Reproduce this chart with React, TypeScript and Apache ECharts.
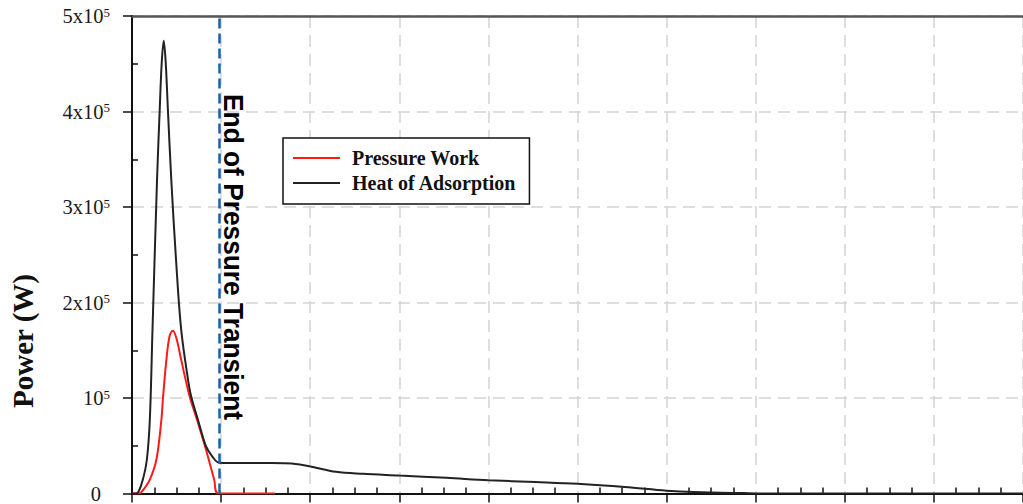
import React, { useEffect, useRef } from "react";
import * as echarts from "echarts";

// x in axis units (major grid step = 1), y in W
const heatX = [0, 0.044, 0.072, 0.122, 0.167, 0.2, 0.23, 0.281, 0.311, 0.333, 0.356, 0.378, 0.403, 0.441, 0.494, 0.552, 0.626, 0.663, 0.744, 0.83, 0.9, 0.978, 1.089, 1.42, 1.7, 1.79, 1.99, 2.29, 2.59, 3.0, 3.53, 4.0, 4.53, 5.0, 5.53, 6.0, 6.31, 6.87, 7.2, 10];
const heatY = [0, 0, 1500, 14600, 35600, 77400, 171500, 328500, 401700, 450000, 474000, 452000, 401700, 328500, 245000, 171500, 121000, 102000, 76000, 49500, 39000, 32100, 31900, 31900, 31700, 31400, 28600, 22700, 20600, 18800, 16400, 13900, 12000, 10100, 6800, 3000, 1500, 400, 0, 0];

const workX = [0, 0.08, 0.12, 0.2, 0.274, 0.33, 0.348, 0.386, 0.422, 0.459, 0.5, 0.552, 0.65, 0.73, 0.83, 0.922, 0.97, 1.608];
const workY = [0, 0, 3000, 14600, 35600, 77400, 100400, 140000, 165000, 170500, 162000, 140000, 100400, 77400, 46000, 14600, 0, 0];

const seriesNames = ["Pressure Work", "Heat of Adsorption"];
const transientEnd = 0.978;
const yTicks = [0, 100000, 200000, 300000, 400000, 500000];
const yLabels = ["0", "10", "2x10", "3x10", "4x10", "5x10"];

export default function App() {
  const ref = useRef<HTMLDivElement>(null);
  useEffect(() => {
    if (!ref.current) return;
    const chart = echarts.init(ref.current, undefined, { renderer: "svg" });
    const serif = "'Liberation Serif', 'Times New Roman', serif";
    const grid = { color: "#d3d3d3", width: 1.5, type: [12, 7] as any };
    const option: any = {
      animation: false,
      backgroundColor: "#fff",
      grid: { left: 132, right: -9, top: 16, bottom: 10 },
      legend: {
        left: 283, top: 138, orient: "vertical",
        data: seriesNames.map((n) => ({ name: n, icon: "rect" })),
        backgroundColor: "#fff", borderColor: "#111", borderWidth: 1.5,
        padding: [10, 13, 11, 10], itemGap: 5, itemWidth: 47, itemHeight: 2,
        textStyle: { fontFamily: serif, fontWeight: "bold", fontSize: 20, color: "#111", padding: [0, 0, 0, 7] },
      },
      xAxis: [
        {
          type: "value", min: 0, max: 10, interval: 1,
          axisLine: { show: true, onZero: false, lineStyle: { color: "#111", width: 2 } },
          axisTick: { show: true, inside: false, length: 9, lineStyle: { color: "#111", width: 1.5 } },
          axisLabel: { show: false },
          splitLine: { show: true, lineStyle: grid },
        },
        {
          type: "value", min: 0, max: 10, interval: 1, position: "bottom",
          axisLine: { show: false },
          axisTick: { show: false, inside: true },
          minorTick: { show: true, splitNumber: 4, length: 6, lineStyle: { color: "#111", width: 1.5 } },
          axisLabel: { show: false },
          splitLine: { show: false },
        },
        {
          type: "value", min: 0, max: 10, interval: 1, position: "top",
          axisLine: { show: true, onZero: false, lineStyle: { color: "#555", width: 2.5 } },
          axisTick: { show: false },
          axisLabel: { show: false },
          splitLine: { show: false },
        },
      ],
      yAxis: [
        {
          type: "value", min: 0, max: 500000, interval: 100000,
          axisLine: { show: true, onZero: false, lineStyle: { color: "#111", width: 2 } },
          axisTick: { show: true, inside: false, length: 9, lineStyle: { color: "#111", width: 1.5 } },
          axisLabel: {
            margin: 22,
            formatter: (v: number) => {
              const i = yTicks.indexOf(v);
              if (i < 0) return "";
              if (i === 0) return "{z|" + yLabels[0] + "}";
              return "{m|" + yLabels[i] + "}{s|5}";
            },
            rich: {
              m: { fontFamily: serif, fontSize: 20.5, color: "#1a1a1a" },
              z: { fontFamily: serif, fontSize: 20.5, color: "#1a1a1a", padding: [0, 9, 0, 0] },
              s: { fontFamily: serif, fontSize: 13, color: "#1a1a1a", padding: [0, 0, 8, 0] },
            },
          },
          splitLine: { show: true, lineStyle: grid },
        },
        {
          type: "value", min: 0, max: 500000, interval: 100000, position: "left",
          axisLine: { show: false },
          axisTick: { show: false, inside: true },
          minorTick: { show: true, splitNumber: 2, length: 6, lineStyle: { color: "#111", width: 1.5 } },
          axisLabel: { show: false },
          splitLine: { show: false },
        },
      ],
      graphic: [
        {
          type: "text", x: 23, y: 341, rotation: Math.PI / 2,
          style: { text: "Power (W)", fontFamily: serif, fontWeight: "bold", fontSize: 29, fill: "#111", align: "center", verticalAlign: "middle" },
        },
        {
          type: "text", x: 234, y: 257, rotation: -Math.PI / 2, scaleX: 0.94, z: 10,
          style: { text: "End of Pressure Transient", fontFamily: "'Liberation Sans', Arial, sans-serif", fontWeight: "bold", fontSize: 28, fill: "#000", align: "center", verticalAlign: "middle" },
        },
      ],
      series: [
        {
          name: seriesNames[0], type: "line", xAxisIndex: 0, yAxisIndex: 0,
          data: workX.map((x, i) => [x, workY[i]]),
          showSymbol: false, symbol: "none", smooth: 0.35,
          lineStyle: { color: "#ff1a1a", width: 2 }, itemStyle: { color: "#ff1a1a" },
          markLine: {
            silent: true, symbol: "none", label: { show: false },
            lineStyle: { color: "#1b5fa5", width: 2.5, type: [10, 5] },
            data: [{ xAxis: transientEnd }],
          },
        },
        {
          name: seriesNames[1], type: "line", xAxisIndex: 0, yAxisIndex: 0,
          data: heatX.map((x, i) => [x, heatY[i]]),
          showSymbol: false, symbol: "none", smooth: 0.35,
          lineStyle: { color: "#222", width: 2 }, itemStyle: { color: "#222" },
        },
      ],
    };
    chart.setOption(option);
    return () => chart.dispose();
  }, []);
  return <div ref={ref} style={{ position: "fixed", left: 0, top: 0, width: 1023, height: 504 }} />;
}
